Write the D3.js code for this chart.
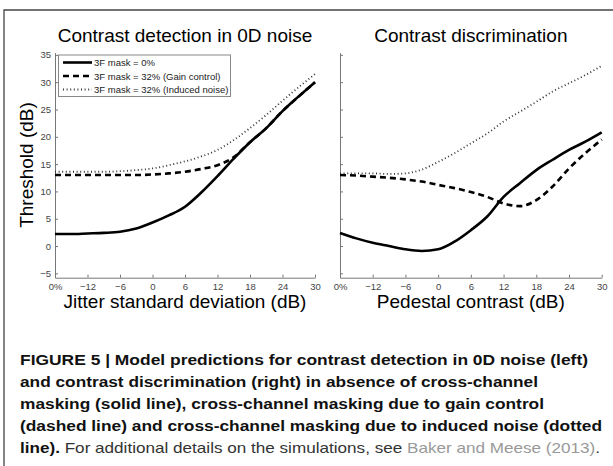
<!DOCTYPE html>
<html>
<head>
<meta charset="utf-8">
<script src="https://cdn.jsdelivr.net/npm/d3@7"></script>
<style>
  body { margin: 0; background: #fff; }
  svg { display: block; font-family: "Liberation Sans", Arial, sans-serif; }
</style>
</head>
<body>
<div class="figure"></div>
<script>
// x positions in dB (first tick -18 is drawn as "0%")
var xValues = [-18, -15, -12, -9, -6, -3, 0, 3, 6, 9, 12, 15, 18, 21, 24, 27, 30];

// left panel: contrast detection in 0D noise
var detectNoMask = [2.2, 2.2, 2.3, 2.4, 2.6, 3.2, 4.3, 5.6, 7.2, 9.8, 12.8, 16.0, 19.0, 21.6, 24.7, 27.4, 30.0];
var detectGain = [13.0, 13.0, 13.0, 13.0, 13.0, 13.0, 13.1, 13.3, 13.6, 14.1, 14.8, 16.3, 19.0, 21.6, 24.7, 27.4, 30.0];
var detectNoise = [13.6, 13.6, 13.6, 13.6, 13.7, 13.9, 14.2, 14.8, 15.5, 16.4, 17.6, 19.4, 21.6, 24.0, 26.6, 29.1, 31.5];

// right panel: contrast discrimination
var discNoMask = [2.4, 1.4, 0.6, 0.0, -0.6, -0.9, -0.6, 0.8, 2.9, 5.4, 9.0, 11.5, 13.9, 15.8, 17.6, 19.1, 20.8];
var discGain = [13.0, 12.9, 12.7, 12.5, 12.2, 11.8, 11.2, 10.6, 9.9, 9.0, 7.8, 7.3, 8.4, 10.9, 14.2, 17.0, 19.5];
var discNoise = [13.3, 13.3, 13.3, 13.2, 13.3, 14.0, 15.4, 17.0, 18.8, 20.6, 22.8, 24.6, 26.4, 28.3, 29.8, 31.3, 33.0];

var xTicks = [-18, -12, -6, 0, 6, 12, 18, 24, 30];
var xTickLabels = ["0%", "\u221212", "\u22126", "0", "6", "12", "18", "24", "30"];
var yTicks = [-5, 0, 5, 10, 15, 20, 25, 30, 35];
var yTickLabels = ["\u22125", "0", "5", "10", "15", "20", "25", "30", "35"];

var legendLabels = ["3F mask = 0%", "3F mask = 32% (Gain control)", "3F mask = 32% (Induced noise)"];

var w = 613;
var h = 466;

var styles = [
  { width: 2.6, dash: null, color: "#000" },
  { width: 2.6, dash: "6,4", color: "#000" },
  { width: 1.8, dash: "1,2.6", color: "#333" }
];

var svg = d3.select(".figure")
  .append("svg")
  .attr("width", w)
  .attr("height", h);

// outer frame (top and left edges)
svg.append("path")
  .attr("d", "M4," + (h + 2) + "V10H" + (w + 2))
  .attr("fill", "none")
  .attr("stroke", "#444")
  .attr("stroke-width", 1.3);

var yScale = d3.scaleLinear()
  .domain([-5.8, 35.4])
  .range([277.7, 52.7]);

function drawPanel(x0, x1, title, xTitle, series, showYLabels) {
  var xScale = d3.scaleLinear()
    .domain([-18, 30])
    .range([x0, x1]);

  var g = svg.append("g");

  var xAxis = d3.axisBottom(xScale)
    .tickValues(xTicks)
    .tickFormat(function(d, i) { return xTickLabels[i]; })
    .tickSizeInner(-3)
    .tickSizeOuter(0)
    .tickPadding(6);

  var yAxis = d3.axisLeft(yScale)
    .tickValues(yTicks)
    .tickFormat(function(d, i) { return showYLabels ? yTickLabels[i] : ""; })
    .tickSizeInner(-3)
    .tickSizeOuter(0)
    .tickPadding(4);

  var gx = g.append("g")
    .attr("transform", "translate(0," + yScale.range()[0] + ")")
    .call(xAxis);
  var gy = g.append("g")
    .attr("transform", "translate(" + x0 + ",0)")
    .call(yAxis);

  [gx, gy].forEach(function(ax) {
    ax.select(".domain").attr("stroke", "#777").attr("stroke-width", 1);
    ax.selectAll(".tick line").attr("stroke", "#777");
    ax.selectAll(".tick text")
      .attr("fill", "#444")
      .style("font-size", "9.5px")
      .style("font-family", "'Liberation Sans', Arial, sans-serif");
  });

  var line = d3.line()
    .x(function(d) { return xScale(d[0]); })
    .y(function(d) { return yScale(d[1]); })
    .curve(d3.curveMonotoneX);

  series.forEach(function(vals, i) {
    var pts = xValues.map(function(x, j) { return [x, vals[j]]; });
    g.append("path")
      .datum(pts)
      .attr("d", line)
      .attr("fill", "none")
      .attr("stroke", styles[i].color)
      .attr("stroke-width", styles[i].width)
      .attr("stroke-dasharray", styles[i].dash);
  });

  g.append("text")
    .attr("x", (x0 + x1) / 2)
    .attr("y", 41.5)
    .attr("text-anchor", "middle")
    .style("font-size", "19px")
    .text(title);

  g.append("text")
    .attr("x", (x0 + x1) / 2)
    .attr("y", 308)
    .attr("text-anchor", "middle")
    .style("font-size", "19px")
    .text(xTitle);

  return xScale;
}

drawPanel(55, 315, "Contrast detection in 0D noise", "Jitter standard deviation (dB)",
  [detectNoMask, detectGain, detectNoise], true);
drawPanel(340, 601.7, "Contrast discrimination", "Pedestal contrast (dB)",
  [discNoMask, discGain, discNoise], false);

svg.append("text")
  .attr("transform", "rotate(-90)")
  .attr("x", -165)
  .attr("y", 33)
  .attr("text-anchor", "middle")
  .style("font-size", "19px")
  .text("Threshold (dB)");

// legend
var legend = svg.append("g")
  .attr("class", "legend");

legend.append("rect")
  .attr("x", 58.5)
  .attr("y", 55)
  .attr("width", 172)
  .attr("height", 41.5)
  .attr("fill", "#fff")
  .attr("stroke", "#888")
  .attr("stroke-width", 1);

var legendItem = legend.selectAll(".legend-item")
  .data(legendLabels)
  .enter().append("g")
  .attr("class", "legend-item")
  .attr("transform", function(d, i) {
    return "translate(0," + (62.5 + i * 13.5) + ")";
  });

legendItem.append("line")
  .attr("x1", 63)
  .attr("x2", 92)
  .attr("y1", 0)
  .attr("y2", 0)
  .attr("stroke", function(d, i) { return styles[i].color; })
  .attr("stroke-width", function(d, i) { return styles[i].width; })
  .attr("stroke-dasharray", function(d, i) { return styles[i].dash; });

legendItem.append("text")
  .attr("x", 94)
  .attr("y", 3.5)
  .style("font-size", "9.5px")
  .attr("fill", "#222")
  .text(function(d) { return d; });

// caption
var captionBold = [
  "FIGURE 5 | Model predictions for contrast detection in 0D noise (left)",
  "and contrast discrimination (right) in absence of cross-channel",
  "masking (solid line), cross-channel masking due to gain control",
  "(dashed line) and cross-channel masking due to induced noise (dotted"
];
var captionEnds = [588, 538, 544, 602];

var caption = svg.append("g")
  .style("font-family", "'Liberation Sans', Arial, sans-serif");

captionBold.forEach(function(t, i) {
  caption.append("text")
    .attr("x", 20)
    .attr("y", 365 + i * 22)
    .attr("textLength", captionEnds[i] - 20)
    .attr("lengthAdjust", "spacingAndGlyphs")
    .style("font-size", "14.5px")
    .style("font-weight", "bold")
    .attr("fill", "#111")
    .text(t);
});

var last = caption.append("text")
  .attr("x", 20)
  .attr("y", 365 + 4 * 22)
  .attr("textLength", 580)
  .attr("lengthAdjust", "spacingAndGlyphs")
  .style("font-size", "14.5px");
last.append("tspan").style("font-weight", "bold").attr("fill", "#111").text("line).");
last.append("tspan").attr("fill", "#333").text(" For additional details on the simulations, see ");
last.append("tspan").attr("fill", "#999").text("Baker and Meese (2013)");
last.append("tspan").attr("fill", "#333").text(".");
</script>
</body>
</html>
